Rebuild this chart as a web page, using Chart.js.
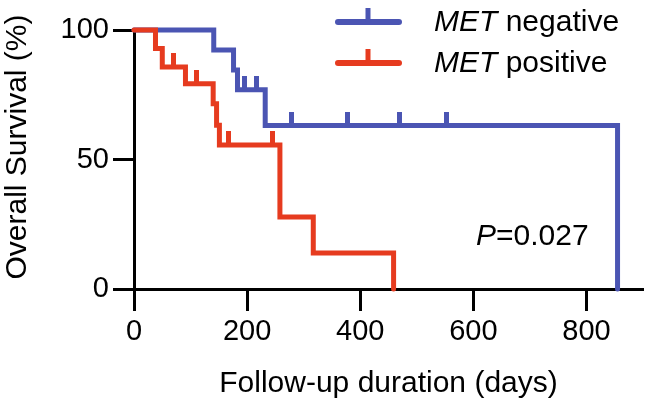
<!DOCTYPE html>
<html>
<head>
  <title>Overall Survival by MET status</title>
  <script src="https://cdn.jsdelivr.net/npm/chart.js"></script>
  <style>
    html, body { margin: 0; padding: 0; background: #fff; }
    #wrap { width: 648px; height: 412px; position: relative; }
  </style>
</head>
<body>
  <div id="wrap">
    <canvas id="kmChart"></canvas>
  </div>

  <script>
    // Kaplan-Meier steps (days, % surviving)
    const negDays = [0, 141, 176, 183, 232, 855];
    const negSurv = [100, 92.3, 84.6, 76.9, 63.1, 0];
    const negCensorDays = [195, 217, 279, 377, 469, 552];
    const negCensorSurv = [76.9, 76.9, 63.1, 63.1, 63.1, 63.1];

    const posDays = [0, 38, 50, 91, 140, 146, 151, 258, 317, 459];
    const posSurv = [100, 92.9, 85.7, 79.2, 71.5, 63.2, 55.6, 27.8, 13.9, 0];
    const posCensorDays = [70, 110, 167, 245];
    const posCensorSurv = [85.7, 79.2, 55.6, 55.6];

    const seriesGene = ['MET', 'MET'];
    const seriesStatus = [' negative', ' positive'];
    const xTicks = [0, 200, 400, 600, 800];
    const yTicks = [0, 50, 100];
    const pGene = 'P';
    const pText = '=0.027';

    const BLUE = '#4b55b3';
    const RED = '#e63b1f';
    const FONT = "'Liberation Sans', Arial, sans-serif";

    function toPoints(xs, ys) {
      return xs.map((x, i) => ({ x: x, y: ys[i] }));
    }

    // little upward tick used as censor mark
    function censorMark(color) {
      const c = document.createElement('canvas');
      c.width = 5;
      c.height = 28;
      const g = c.getContext('2d');
      g.fillStyle = color;
      g.fillRect(0, 0, 5, 15);
      return c;
    }

    const legendAndLabel = {
      id: 'legendAndLabel',
      afterDraw(chart) {
        const ctx = chart.ctx;
        const colors = [BLUE, RED];
        const rows = [22, 63];
        ctx.save();
        for (let i = 0; i < rows.length; i++) {
          const y = rows[i];
          ctx.strokeStyle = colors[i];
          ctx.lineWidth = 6;
          ctx.lineCap = 'round';
          ctx.beginPath();
          ctx.moveTo(338, y);
          ctx.lineTo(399, y);
          ctx.stroke();
          ctx.lineCap = 'butt';
          ctx.lineWidth = 5;
          ctx.beginPath();
          ctx.moveTo(368, y);
          ctx.lineTo(368, y - 14);
          ctx.stroke();

          ctx.fillStyle = '#000';
          ctx.textBaseline = 'middle';
          ctx.font = 'italic 30px ' + FONT;
          ctx.fillText(seriesGene[i], 434, y + 1);
          const w = ctx.measureText(seriesGene[i]).width;
          ctx.font = '30px ' + FONT;
          ctx.fillText(seriesStatus[i], 434 + w, y + 1);
        }
        ctx.font = 'italic 30px ' + FONT;
        ctx.fillText(pGene, 476, 237);
        const pw = ctx.measureText(pGene).width;
        ctx.font = '30px ' + FONT;
        ctx.fillText(pText, 476 + pw, 237);
        ctx.restore();
      }
    };

    const axisFont = { family: FONT, size: 29 };

    const chart = new Chart(document.getElementById('kmChart'), {
      type: 'line',
      data: {
        datasets: [
          {
            type: 'scatter',
            data: toPoints(posCensorDays, posCensorSurv),
            pointStyle: censorMark(RED),
            pointRadius: 3,
            showLine: false,
            clip: false
          },
          {
            type: 'scatter',
            data: toPoints(negCensorDays, negCensorSurv),
            pointStyle: censorMark(BLUE),
            pointRadius: 3,
            showLine: false,
            clip: false
          },
          {
            data: toPoints(posDays, posSurv),
            borderColor: RED,
            borderWidth: 5,
            stepped: 'before',
            pointRadius: 0,
            borderCapStyle: 'round',
            borderJoinStyle: 'miter',
            fill: false,
            clip: false
          },
          {
            data: toPoints(negDays, negSurv),
            borderColor: BLUE,
            borderWidth: 5,
            stepped: 'before',
            pointRadius: 0,
            borderCapStyle: 'round',
            borderJoinStyle: 'miter',
            fill: false,
            clip: false
          }
        ]
      },
      options: {
        responsive: true,
        maintainAspectRatio: false,
        animation: false,
        layout: { padding: { top: 30, right: 3, left: 0, bottom: 0 } },
        plugins: {
          legend: { display: false },
          tooltip: { enabled: false }
        },
        scales: {
          x: {
            type: 'linear',
            min: 0,
            max: 900,
            afterBuildTicks: (s) => { s.ticks = xTicks.map(v => ({ value: v })); },
            afterFit: (s) => { s.height = 123; },
            grid: {
              drawOnChartArea: false,
              drawTicks: true,
              tickLength: 22,
              tickWidth: 3,
              tickColor: '#000'
            },
            border: { display: true, color: '#000', width: 3 },
            ticks: { color: '#000', font: axisFont, padding: 4, maxRotation: 0 },
            title: {
              display: true,
              text: 'Follow-up duration (days)',
              color: '#000',
              font: { family: FONT, size: 30 },
              padding: { top: 0, bottom: 10 }
            }
          },
          y: {
            type: 'linear',
            min: 0,
            max: 100,
            afterBuildTicks: (s) => { s.ticks = yTicks.map(v => ({ value: v })); },
            afterFit: (s) => { s.width = 134; },
            grid: {
              drawOnChartArea: false,
              drawTicks: true,
              tickLength: 21,
              tickWidth: 3,
              tickColor: '#000'
            },
            border: { display: true, color: '#000', width: 3 },
            ticks: { color: '#000', font: axisFont, padding: 4 },
            title: {
              display: true,
              // leading spaces nudge the centred title up to where the original sits
              text: '   Overall Survival (%)',
              color: '#000',
              font: { family: FONT, size: 30 },
              padding: { top: 0, bottom: 0 }
            }
          }
        }
      },
      plugins: [legendAndLabel]
    });
  </script>
</body>
</html>
